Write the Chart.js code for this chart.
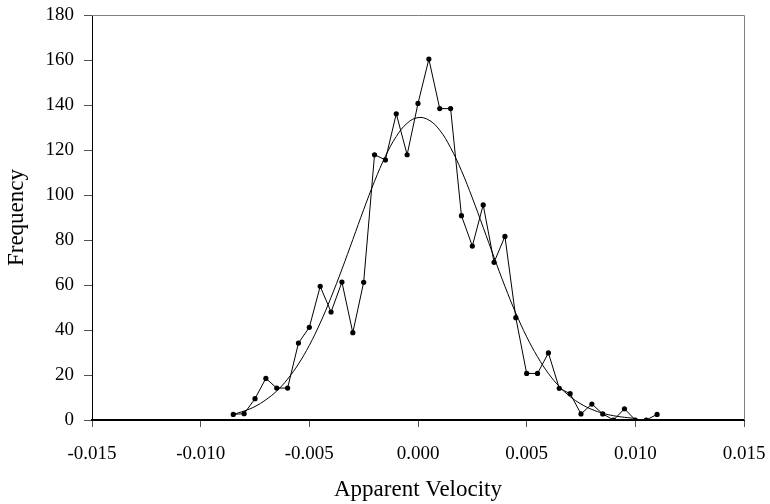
<!DOCTYPE html>
<html>
<head>
<meta charset="utf-8">
<script src="https://cdn.jsdelivr.net/npm/chart.js@4.4.0/dist/chart.umd.min.js"></script>
<style>
	body { margin: 0; background: #fff; }
	#wrap { width: 770px; height: 504px; }
</style>
</head>
<body>
<div id="wrap"><canvas id="myChart"></canvas></div>
<script>
// bin centres (apparent velocity)
const velocity = [
	-0.0085, -0.008, -0.0075, -0.007, -0.0065, -0.006, -0.0055, -0.005, -0.0045, -0.004,
	-0.0035, -0.003, -0.0025, -0.002, -0.0015, -0.001, -0.0005, 0.0, 0.0005, 0.001,
	0.0015, 0.002, 0.0025, 0.003, 0.0035, 0.004, 0.0045, 0.005, 0.0055, 0.006,
	0.0065, 0.007, 0.0075, 0.008, 0.0085, 0.009, 0.0095, 0.01, 0.0105, 0.011,
];
// observed frequency
const frequency = [
	2.5, 2.8, 9.5, 18.5, 14.2, 14.2, 34.2, 41.2, 59.4, 48,
	61.3, 38.8, 61.2, 117.9, 115.6, 136.1, 117.9, 140.7, 160.4, 138.4,
	138.4, 90.8, 77.3, 95.6, 70.1, 81.6, 45.5, 20.7, 20.7, 29.8,
	14.1, 11.7, 2.7, 7.1, 2.7, 0, 5.0, 0, 0, 2.5,
];
// fitted curve
const fitVelocity = velocity.slice(0, 38);
const fitted = [
	2.5, 4.0, 6.0, 9.0, 12.9, 18.2, 24.9, 33.2, 43.1, 54.5,
	67.0, 80.2, 93.5, 106.1, 117.2, 126.0, 131.9, 134.4, 133.3, 128.8,
	121.0, 110.8, 98.7, 85.6, 72.3, 59.4, 47.5, 37.0, 28.1, 20.7,
	14.9, 10.4, 7.1, 4.7, 3.0, 1.9, 1.2, 0.7,
];
const xTicks = [-0.015, -0.01, -0.005, 0, 0.005, 0.01, 0.015];

const serif = "'Liberation Serif', 'Times New Roman', serif";

// grey frame on top and right of the plot area
const frame = {
	id: "frame",
	beforeDatasetsDraw(chart) {
		const { ctx, chartArea: a } = chart;
		ctx.save();
		ctx.strokeStyle = "#808080";
		ctx.lineWidth = 1;
		ctx.beginPath();
		ctx.moveTo(a.left, a.top + 0.5);
		ctx.lineTo(a.right + 0.5, a.top + 0.5);
		ctx.lineTo(a.right + 0.5, a.bottom);
		ctx.stroke();
		ctx.restore();
	},
};

const ctx = document.getElementById("myChart").getContext("2d");
new Chart(ctx, {
	type: "scatter",
	data: {
		datasets: [
			{
				data: velocity.map((v, i) => ({ x: v, y: frequency[i] })),
				showLine: true,
				borderColor: "#000",
				backgroundColor: "#000",
				borderWidth: 1,
				pointRadius: 2.6,
				pointBorderWidth: 0,
				tension: 0,
			},
			{
				data: fitVelocity.map((v, i) => ({ x: v, y: fitted[i] })),
				showLine: true,
				borderColor: "#000",
				borderWidth: 1,
				pointRadius: 0,
				tension: 0.4,
			},
		],
	},
	options: {
		responsive: true,
		maintainAspectRatio: false,
		animation: false,
		layout: { padding: { top: 15, right: 26, left: 0, bottom: 0 } },
		plugins: { legend: { display: false }, tooltip: { enabled: false } },
		scales: {
			x: {
				type: "linear",
				min: -0.015,
				max: 0.015,
				afterBuildTicks: (s) => { s.ticks = xTicks.map((v) => ({ value: v })); },
				afterFit: (s) => { s.height = 84; s.paddingLeft = 0; s.paddingRight = 0; },
				ticks: {
					color: "#000",
					font: { family: serif, size: 19 },
					padding: 16,
					maxRotation: 0,
					callback: (v) => (Math.abs(v) < 1e-9 ? "0.000" : v.toFixed(3)),
				},
				grid: { drawOnChartArea: false, tickLength: 7, color: "#555" },
				border: { color: "#000", width: 2 },
				title: {
					display: true,
					text: "Apparent Velocity",
					color: "#000",
					font: { family: serif, size: 23 },
					padding: { top: 0, bottom: 0 },
				},
			},
			y: {
				min: 0,
				max: 180,
				afterFit: (s) => { s.width = 92; s.paddingTop = 0; s.paddingBottom = 0; },
				ticks: {
					stepSize: 20,
					color: "#000",
					font: { family: serif, size: 19 },
					padding: 10,
				},
				grid: { drawOnChartArea: false, tickLength: 8, color: "#555" },
				border: { color: "#000", width: 1 },
				title: {
					display: true,
					text: "Frequency",
					color: "#000",
					font: { family: serif, size: 23 },
					padding: { top: 3, bottom: 0 },
				},
			},
		},
	},
	plugins: [frame],
});
</script>
</body>
</html>
